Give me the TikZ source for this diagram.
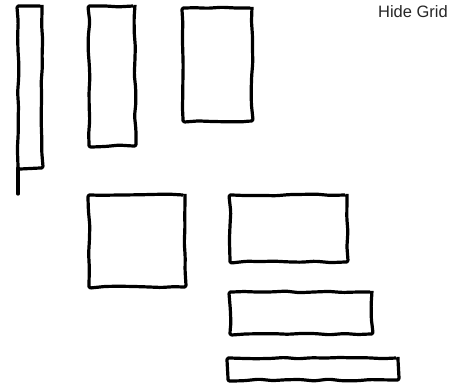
\documentclass[tikz,border=0pt]{standalone}
\usepackage{fontspec}
\setsansfont{Liberation Sans}
\usetikzlibrary{decorations.pathmorphing}
\tikzset{
  sketchbox/.style={draw, line width=3.2pt, line join=round, inner sep=0pt, outer sep=0pt,
    decorate, decoration={random steps, segment length=14pt, amplitude=0.9pt}, rounded corners=2pt},
  gridlabel/.style={font=\sffamily\fontsize{16.5}{19}\selectfont, text=black!85, inner sep=0pt}
}
\begin{document}
\pgfmathsetseed{7}
\begin{tikzpicture}[x=1pt,y=-1pt]
\useasboundingbox (0,0) rectangle (452,391);
\node[sketchbox, minimum width=24pt, minimum height=162pt] (strip) at (30,87) {};
\node[sketchbox, minimum width=46pt, minimum height=140pt] (tall) at (112,76) {};
\node[sketchbox, minimum width=69pt, minimum height=113pt] (panel) at (217.5,64.5) {};
\node[sketchbox, minimum width=96pt, minimum height=92pt] (square) at (137,241) {};
\node[sketchbox, minimum width=117pt, minimum height=67pt] (wide) at (288.5,228.5) {};
\node[sketchbox, minimum width=142pt, minimum height=42pt] (bar) at (301,313) {};
\node[sketchbox, minimum width=170pt, minimum height=22pt] (thinbar) at (313,369) {};
\node[gridlabel, anchor=east] (hide) at (448,12) {Hide Grid};
\coordinate (tail) at (18,194);
\draw[line width=3.2pt, line cap=round] (strip.south west) -- (tail);
\end{tikzpicture}
\end{document}
